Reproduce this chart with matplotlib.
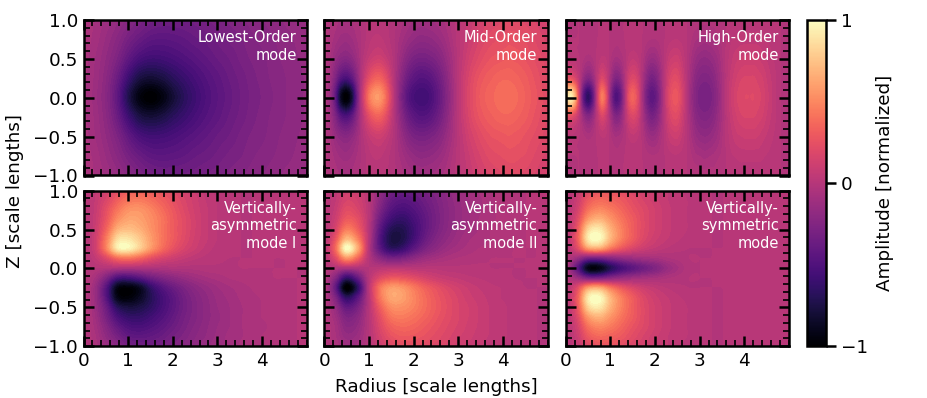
import numpy as np
from matplotlib import pyplot as plt
from matplotlib.cm import ScalarMappable
from matplotlib.colors import BoundaryNorm, Normalize

# amplitude grids, rows top to bottom (z high to low), columns r=0..5
# the three top panels and the last one are mirror symmetric, so only z=1..0 is listed

lowest_half = [
    [-.04,-.07,-.11,-.16,-.22,-.28,-.32,-.34,-.34,-.33,-.32,-.30,-.28,-.26,-.24,-.22,-.20,-.18,-.16,-.15,-.13],
    [-.05,-.08,-.14,-.21,-.30,-.37,-.42,-.43,-.42,-.40,-.37,-.35,-.32,-.29,-.27,-.24,-.22,-.20,-.18,-.16,-.14],
    [-.05,-.10,-.17,-.27,-.41,-.52,-.56,-.55,-.52,-.48,-.44,-.40,-.36,-.33,-.29,-.26,-.24,-.21,-.19,-.17,-.15],
    [-.06,-.11,-.20,-.36,-.58,-.74,-.78,-.74,-.66,-.59,-.52,-.46,-.41,-.36,-.32,-.28,-.25,-.22,-.20,-.18,-.16],
    [-.06,-.12,-.22,-.42,-.72,-.93,-1.0,-.92,-.78,-.66,-.57,-.49,-.43,-.38,-.33,-.29,-.26,-.23,-.20,-.18,-.16],
]

mid_half = [
    [-.01,-.03,-.05,-.07,-.07,-.06,-.04,-.01,.01,.02,.02,.01,-.01,-.03,-.06,-.08,-.10,-.11,-.11,-.10,-.09,-.07,-.05,-.01,.02,.05,.08,.11,.14,.16,.18,.19,.20,.21,.21,.20,.19,.18,.16,.15,.14],
    [-.02,-.04,-.08,-.11,-.12,-.10,-.06,-.02,.02,.04,.04,.02,-.01,-.05,-.09,-.13,-.16,-.18,-.18,-.17,-.15,-.12,-.08,-.03,.02,.06,.10,.14,.17,.20,.22,.23,.24,.25,.25,.24,.23,.21,.19,.17,.16],
    [-.02,-.06,-.14,-.20,-.22,-.18,-.10,0,.07,.11,.12,.08,.02,-.06,-.15,-.23,-.28,-.30,-.30,-.28,-.25,-.20,-.13,-.06,.02,.08,.14,.18,.22,.25,.27,.28,.29,.30,.29,.28,.26,.24,.22,.20,.18],
    [-.03,-.09,-.25,-.44,-.50,-.40,-.18,.05,.22,.32,.33,.24,.08,-.08,-.23,-.35,-.42,-.46,-.46,-.43,-.37,-.29,-.19,-.08,.02,.11,.18,.24,.28,.31,.33,.35,.36,.36,.35,.33,.31,.28,.25,.22,.20],
    [-.03,-.12,-.40,-.85,-1.0,-.78,-.28,.12,.42,.56,.56,.40,.15,-.10,-.30,-.45,-.53,-.56,-.56,-.52,-.44,-.34,-.22,-.10,.02,.12,.20,.26,.31,.34,.36,.38,.39,.39,.38,.36,.33,.30,.27,.24,.21],
]

high_half = [
    [0,0,0,0,0,0,0,0,0,0,0,0,0,0,0,0,0,0,0,0,0,0,0,0,0,0,0,0,-.01,-.01,-.02,-.02,-.02,-.02,-.01,-.01,0,0,.01,.01,.01,.01,.01,.01,.01,0,0,0,0,-.01,-.01],
    [0,0,0,0,-.01,-.01,-.01,0,.01,.01,-.01,-.02,-.02,0,.01,.01,.01,0,-.02,-.03,-.03,-.02,0,.02,.03,.03,.02,0,-.03,-.06,-.07,-.08,-.07,-.06,-.04,-.02,.01,.03,.04,.05,.05,.05,.05,.05,.04,.03,.02,.01,0,-.01,-.02],
    [.02,.03,.02,0,-.03,-.05,-.03,.01,.04,.03,-.03,-.07,-.06,-.02,.04,.06,.04,-.01,-.09,-.13,-.12,-.06,.01,.08,.11,.11,.06,0,-.07,-.13,-.16,-.17,-.16,-.13,-.09,-.03,.02,.06,.09,.10,.11,.11,.11,.10,.08,.06,.04,.02,0,-.02,-.03],
    [.20,.24,.17,.03,-.15,-.23,-.14,.04,.18,.10,-.09,-.24,-.21,-.05,.13,.19,.13,-.03,-.19,-.29,-.26,-.14,.02,.15,.21,.20,.11,0,-.11,-.20,-.24,-.25,-.24,-.20,-.13,-.05,.03,.09,.13,.16,.17,.17,.17,.15,.13,.09,.06,.03,0,-.02,-.03],
    [.80,.95,.70,.10,-.45,-.65,-.40,.10,.45,.25,-.20,-.48,-.42,-.10,.25,.35,.22,-.05,-.30,-.42,-.38,-.20,.03,.20,.28,.27,.15,0,-.14,-.24,-.29,-.30,-.29,-.24,-.16,-.06,.04,.11,.16,.19,.20,.20,.20,.18,.15,.11,.07,.03,0,-.02,-.03],
]

asym1 = [
    [0,.06,.14,.24,.32,.33,.30,.26,.20,.14,.09,.05,.02,.01,0,0,0,0,0,0,0],
    [0,.07,.18,.32,.42,.44,.39,.32,.24,.17,.11,.06,.03,.01,0,0,0,0,0,0,0],
    [0,.08,.24,.42,.54,.55,.48,.38,.28,.19,.12,.07,.03,.01,0,0,0,0,0,0,0],
    [0,.09,.28,.52,.62,.60,.52,.42,.30,.21,.13,.07,.03,.01,0,0,0,0,0,0,0],
    [0,.10,.35,.66,.72,.66,.54,.42,.30,.21,.13,.07,.03,.01,0,0,0,0,0,0,0],
    [0,.12,.45,.85,.88,.76,.58,.42,.30,.20,.12,.07,.03,.01,0,0,0,0,0,0,0],
    [0,.12,.48,.92,.95,.78,.56,.38,.25,.16,.10,.05,.02,.01,0,0,0,0,0,0,0],
    [0,.06,.20,.38,.42,.35,.24,.16,.11,.07,.04,.02,.01,0,0,0,0,0,0,0,0],
    [0,0,-.01,-.02,-.03,-.03,-.03,-.03,-.02,-.02,-.02,-.01,-.01,-.01,0,0,0,0,0,0,0],
    [0,-.07,-.26,-.50,-.52,-.44,-.33,-.25,-.19,-.14,-.10,-.07,-.05,-.03,-.02,-.01,-.01,0,0,0,0],
    [0,-.13,-.46,-.90,-.95,-.85,-.62,-.46,-.35,-.26,-.19,-.14,-.10,-.07,-.05,-.03,-.02,-.01,-.01,0,0],
    [0,-.13,-.46,-.90,-.95,-.85,-.68,-.54,-.42,-.31,-.23,-.17,-.12,-.09,-.06,-.04,-.03,-.02,-.01,0,0],
    [0,-.12,-.36,-.68,-.76,-.73,-.64,-.53,-.42,-.32,-.24,-.18,-.13,-.10,-.07,-.05,-.03,-.02,-.01,0,0],
    [0,-.10,-.30,-.52,-.62,-.62,-.56,-.48,-.39,-.30,-.24,-.18,-.14,-.10,-.07,-.05,-.03,-.02,-.01,0,0],
    [0,-.08,-.23,-.40,-.50,-.52,-.48,-.42,-.35,-.28,-.22,-.17,-.13,-.10,-.07,-.05,-.04,-.02,-.01,0,0],
    [0,-.06,-.18,-.30,-.40,-.42,-.40,-.36,-.30,-.25,-.20,-.16,-.12,-.09,-.07,-.05,-.03,-.02,-.01,0,0],
    [0,-.05,-.13,-.22,-.31,-.34,-.33,-.30,-.26,-.22,-.18,-.14,-.11,-.09,-.06,-.05,-.03,-.02,-.01,0,0],
]

asym2 = [
    [0,.05,.12,.10,.02,-.16,-.30,-.37,-.36,-.30,-.24,-.18,-.13,-.09,-.06,-.04,-.02,-.01,0,0,0],
    [0,.06,.16,.13,.02,-.20,-.38,-.44,-.41,-.34,-.27,-.20,-.14,-.10,-.07,-.04,-.02,-.01,0,0,0],
    [0,.08,.22,.17,.02,-.26,-.46,-.52,-.47,-.38,-.29,-.21,-.15,-.10,-.07,-.04,-.02,-.01,0,0,0],
    [0,.11,.30,.24,.02,-.34,-.56,-.62,-.53,-.41,-.30,-.21,-.15,-.10,-.06,-.04,-.02,-.01,0,0,0],
    [0,.16,.45,.32,.02,-.42,-.68,-.70,-.57,-.41,-.29,-.20,-.13,-.09,-.06,-.03,-.02,-.01,0,0,0],
    [0,.26,.70,.48,.02,-.46,-.74,-.72,-.55,-.37,-.25,-.17,-.11,-.07,-.05,-.03,-.02,-.01,0,0,0],
    [0,.36,1.0,.65,.01,-.42,-.65,-.60,-.43,-.28,-.19,-.12,-.08,-.05,-.03,-.02,-.01,0,0,0,0],
    [0,.20,.55,.35,0,-.20,-.30,-.27,-.19,-.12,-.08,-.05,-.03,-.02,-.01,0,0,0,0,0,0],
    [0,-.01,-.03,-.02,0,.02,.03,.03,.02,.02,.02,.01,.01,.01,.01,0,0,0,0,0,0],
    [0,-.22,-.60,-.38,0,.20,.28,.27,.22,.16,.11,.08,.06,.04,.03,.02,.01,0,0,0,0],
    [0,-.38,-1.0,-.66,0,.42,.58,.55,.44,.33,.25,.18,.13,.09,.06,.04,.03,.01,0,0,0],
    [0,-.25,-.66,-.45,0,.42,.62,.60,.49,.38,.29,.22,.16,.11,.08,.05,.03,.02,.01,0,0],
    [0,-.15,-.40,-.30,0,.32,.52,.53,.47,.38,.30,.23,.17,.13,.09,.06,.04,.02,.01,0,0],
    [0,-.10,-.27,-.21,0,.24,.42,.45,.41,.35,.28,.22,.17,.13,.09,.06,.04,.02,.01,0,0],
    [0,-.07,-.20,-.16,0,.19,.33,.37,.35,.30,.25,.20,.16,.12,.09,.06,.04,.02,.01,0,0],
    [0,-.06,-.15,-.12,0,.15,.26,.30,.29,.26,.22,.18,.14,.11,.08,.06,.04,.02,.01,0,0],
    [0,-.04,-.10,-.09,0,.11,.20,.24,.24,.22,.19,.16,.12,.09,.07,.05,.03,.02,.01,0,0],
]

sym_half = [
    [0,.07,.20,.27,.27,.23,.18,.14,.10,.07,.04,.02,.01,0,0,0,0,0,0,0,0],
    [0,.10,.30,.37,.34,.29,.22,.16,.11,.07,.05,.03,.01,0,0,0,0,0,0,0,0],
    [0,.14,.41,.50,.44,.35,.26,.19,.13,.08,.05,.03,.01,0,0,0,0,0,0,0,0],
    [0,.20,.58,.68,.55,.41,.30,.20,.13,.08,.05,.03,.01,0,0,0,0,0,0,0,0],
    [0,.27,.82,.90,.66,.46,.31,.20,.13,.08,.05,.03,.01,0,0,0,0,0,0,0,0],
    [0,.30,.92,.98,.68,.45,.30,.18,.11,.07,.04,.02,.01,0,0,0,0,0,0,0,0],
    [0,.20,.58,.62,.42,.27,.17,.10,.06,.03,.01,0,0,0,0,0,0,0,0,0,0],
    [0,-.12,-.30,-.30,-.22,-.16,-.12,-.09,-.07,-.04,-.02,0,0,0,0,0,0,0,0,0,0],
    [-.02,-.40,-.90,-.90,-.68,-.52,-.42,-.33,-.25,-.14,-.07,-.01,0,0,0,0,0,0,0,0,0],
]

titles = [
    'Lowest-Order\nmode', 'Mid-Order\nmode', 'High-Order\nmode',
    'Vertically-\nasymmetric\nmode I', 'Vertically-\nasymmetric\nmode II', 'Vertically-\nsymmetric\nmode',
]
r_ticks = [0, 1, 2, 3, 4]
z_ticks = [-1.0, -0.5, 0.0, 0.5, 1.0]


def mirror(half):
    half = np.array(half)
    return np.vstack([half, half[-2::-1]])


grids = [mirror(lowest_half), mirror(mid_half), mirror(high_half),
         np.array(asym1), np.array(asym2), mirror(sym_half)]

W, H = 927, 398
lefts = [83.5, 324.3, 565.7]
tops = [20, 190.7]
pan_w, pan_h = 223.2, 155.5

plt.rcParams['font.size'] = 13.2
fig = plt.figure(figsize=(W/100, H/100), dpi=100)
norm = BoundaryNorm(np.linspace(-1, 1, 61), 256)

for i, grid in enumerate(grids):
    row, col = divmod(i, 3)
    ax = fig.add_axes([lefts[col]/W, 1 - (tops[row] + pan_h)/H, pan_w/W, pan_h/H])
    # half a cell past each side so the grid nodes land on the right r and z
    dr = 5/(grid.shape[1] - 1)
    dz = 2/(grid.shape[0] - 1)
    # catrom goes through the nodes, agg's bicubic blurs the peaks away
    ax.imshow(grid, cmap='magma', norm=norm, aspect='auto', interpolation='catrom',
              interpolation_stage='data', extent=[-dr/2, 5 + dr/2, -1 - dz/2, 1 + dz/2])
    ax.set_xlim(0, 5)
    ax.set_ylim(-1, 1)
    ax.set_xticks(r_ticks)
    ax.set_yticks(z_ticks)
    ax.set_xticks(np.arange(0, 5.01, 0.2), minor=True)
    ax.set_yticks(np.arange(-1, 1.01, 0.1), minor=True)
    ax.tick_params(which='major', direction='in', top=True, right=True, length=7, width=1.8, pad=4)
    ax.tick_params(which='minor', direction='in', top=True, right=True, length=4, width=1.2)
    ax.tick_params(labelbottom=row == 1, labelleft=col == 0)
    for sp in ax.spines.values():
        sp.set_linewidth(1.8)
    ax.text(0.955, 0.935, titles[i], transform=ax.transAxes, ha='right', va='top',
            color='white', fontsize=10.5)

cax = fig.add_axes([807/W, 1 - 346.2/H, 18.7/W, 326.2/H])
cb = fig.colorbar(ScalarMappable(Normalize(-1, 1), 'magma'), cax=cax, ticks=[-1, 0, 1])
cb.outline.set_linewidth(1.8)
cax.tick_params(length=7, width=1.8, pad=4)
fig.text(885/W, 1 - 183/H, 'Amplitude [normalized]', rotation=90, ha='center', va='center')
fig.text(15/W, 1 - 191/H, 'Z [scale lengths]', rotation=90, ha='center', va='center')
fig.text(436/W, 1 - 387/H, 'Radius [scale lengths]', ha='center', va='center')

fig.savefig('out.png', dpi=100)
